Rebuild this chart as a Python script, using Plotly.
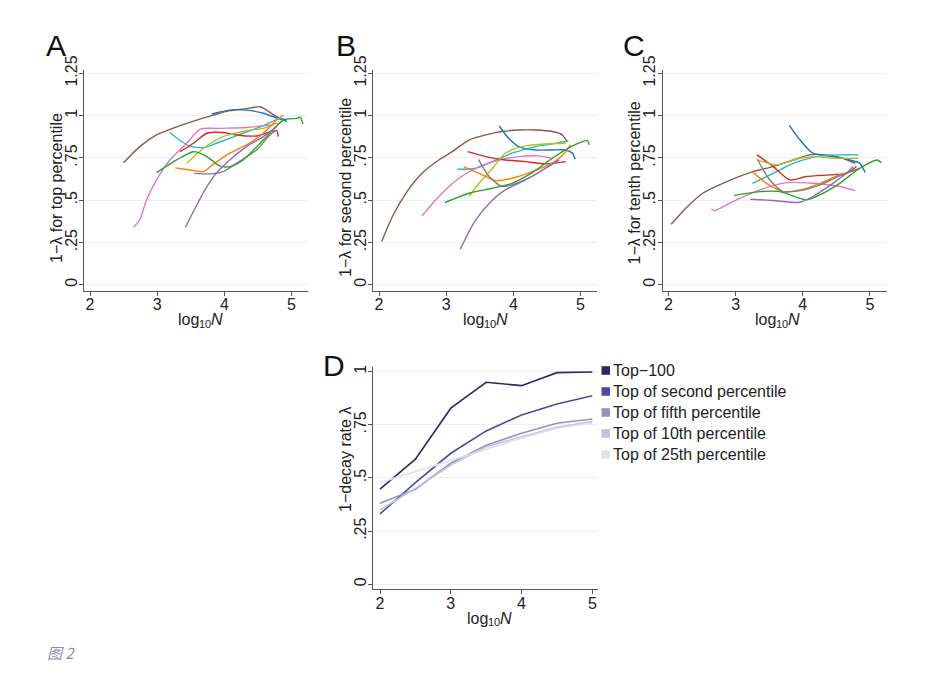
import plotly.graph_objects as go

W, H = 931, 688

# ---------------- data: panel A (1-lambda for top percentile) ----------------
a_brown_x = [2.50, 2.75, 2.99, 3.30, 3.59, 3.85, 4.08, 4.30, 4.53, 4.60, 4.78, 4.93]
a_brown_y = [0.722, 0.820, 0.886, 0.935, 0.974, 1.005, 1.030, 1.040, 1.053, 1.040, 0.994, 0.974]
a_blue_x = [3.81, 4.08, 4.33, 4.58, 4.80, 4.93]
a_blue_y = [1.010, 1.033, 1.033, 1.014, 0.984, 0.965]
a_cyan_x = [3.19, 3.35, 3.49, 3.69, 3.88, 4.08, 4.28, 4.58, 4.83, 4.93]
a_cyan_y = [0.900, 0.850, 0.820, 0.810, 0.837, 0.866, 0.896, 0.940, 0.984, 0.974]
a_pink_x = [2.65, 2.74, 2.84, 2.99, 3.19, 3.44, 3.64, 3.88, 4.33, 4.68]
a_pink_y = [0.340, 0.384, 0.500, 0.620, 0.738, 0.837, 0.920, 0.925, 0.930, 0.945]
a_red_x = [3.34, 3.54, 3.74, 3.98, 4.18, 4.48, 4.78, 4.80]
a_red_y = [0.787, 0.837, 0.896, 0.900, 0.886, 0.880, 0.911, 0.876]
a_olive_x = [3.44, 3.69, 3.98, 4.33, 4.58, 4.78, 4.80]
a_olive_y = [0.718, 0.807, 0.876, 0.911, 0.925, 0.955, 0.945]
a_orange_x = [3.27, 3.49, 3.69, 3.79, 4.08, 4.33, 4.58, 4.78, 4.88]
a_orange_y = [0.691, 0.679, 0.669, 0.699, 0.778, 0.827, 0.896, 0.974, 1.004]
a_gray_x = [3.55, 3.79, 3.98, 4.18, 4.48, 4.68, 4.78]
a_gray_y = [0.659, 0.656, 0.669, 0.718, 0.797, 0.886, 0.915]
a_green_x = [2.99, 3.29, 3.54, 3.74, 3.93, 4.08, 4.28, 4.58, 4.88, 5.07, 5.13, 5.17]
a_green_y = [0.663, 0.738, 0.787, 0.758, 0.703, 0.699, 0.738, 0.856, 0.974, 0.984, 0.990, 0.950]
a_purple_x = [3.42, 3.59, 3.74, 3.88, 4.08, 4.33, 4.58, 4.78]
a_purple_y = [0.340, 0.472, 0.580, 0.659, 0.738, 0.817, 0.876, 0.935]

# ---------------- data: panel B (second percentile) ----------------
b_brown_x = [2.04, 2.20, 2.40, 2.64, 2.89, 3.09, 3.34, 3.59, 3.83, 4.08, 4.33, 4.58, 4.73, 4.80]
b_brown_y = [0.256, 0.404, 0.541, 0.659, 0.738, 0.787, 0.856, 0.886, 0.906, 0.915, 0.915, 0.906, 0.886, 0.846]
b_blue_x = [3.79, 3.93, 4.08, 4.33, 4.58, 4.78, 4.88, 4.92]
b_blue_y = [0.939, 0.866, 0.817, 0.797, 0.797, 0.797, 0.778, 0.742]
b_cyan_x = [3.17, 3.44, 3.69, 3.98, 4.33, 4.63, 4.82]
b_cyan_y = [0.683, 0.689, 0.728, 0.778, 0.817, 0.837, 0.852]
b_pink_x = [2.64, 2.89, 3.19, 3.49, 3.79, 4.08, 4.38, 4.58]
b_pink_y = [0.407, 0.522, 0.630, 0.699, 0.738, 0.758, 0.762, 0.748]
b_red_x = [3.32, 3.59, 3.88, 4.18, 4.48, 4.78]
b_red_y = [0.787, 0.758, 0.738, 0.728, 0.715, 0.728]
b_olive_x = [3.34, 3.49, 3.69, 3.88, 4.18, 4.48, 4.78]
b_olive_y = [0.522, 0.600, 0.689, 0.778, 0.821, 0.833, 0.837]
b_orange_x = [3.26, 3.49, 3.74, 3.98, 4.28, 4.58, 4.78, 4.85]
b_orange_y = [0.699, 0.659, 0.616, 0.630, 0.669, 0.719, 0.787, 0.827]
b_gray_x = [3.48, 3.64, 3.83, 3.98, 4.23, 4.48, 4.68]
b_gray_y = [0.742, 0.640, 0.581, 0.591, 0.630, 0.689, 0.738]
b_green_x = [2.98, 3.34, 3.69, 3.98, 4.28, 4.58, 4.88, 5.10, 5.13]
b_green_y = [0.486, 0.541, 0.571, 0.600, 0.663, 0.748, 0.821, 0.852, 0.827]
b_purple_x = [3.21, 3.44, 3.69, 3.88, 4.18, 4.48, 4.68]
b_purple_y = [0.211, 0.384, 0.502, 0.561, 0.620, 0.689, 0.738]

# ---------------- data: panel C (tenth percentile) ----------------
c_brown_x = [2.04, 2.26, 2.51, 2.81, 3.26, 3.56, 3.86, 4.10, 4.35, 4.60, 4.78]
c_brown_y = [0.358, 0.453, 0.541, 0.600, 0.669, 0.699, 0.738, 0.768, 0.768, 0.748, 0.718]
c_blue_x = [3.80, 3.96, 4.15, 4.45, 4.70, 4.85, 4.91, 4.93]
c_blue_y = [0.943, 0.856, 0.778, 0.758, 0.738, 0.718, 0.679, 0.663]
c_cyan_x = [3.25, 3.56, 3.86, 4.20, 4.55, 4.83]
c_cyan_y = [0.600, 0.659, 0.718, 0.758, 0.768, 0.768]
c_pink_x = [2.64, 2.69, 2.96, 3.36, 3.76, 4.15, 4.55, 4.78]
c_pink_y = [0.447, 0.439, 0.492, 0.561, 0.604, 0.600, 0.581, 0.557]
c_red_x = [3.32, 3.56, 3.81, 4.05, 4.40, 4.65, 4.80]
c_red_y = [0.768, 0.699, 0.620, 0.640, 0.650, 0.659, 0.699]
c_olive_x = [3.31, 3.61, 3.96, 4.20, 4.45, 4.83]
c_olive_y = [0.742, 0.709, 0.748, 0.758, 0.748, 0.748]
c_orange_x = [3.25, 3.46, 3.71, 3.96, 4.26, 4.55, 4.80]
c_orange_y = [0.669, 0.600, 0.551, 0.561, 0.600, 0.650, 0.679]
c_gray_x = [3.33, 3.51, 3.71, 3.96, 4.26, 4.55, 4.85]
c_gray_y = [0.738, 0.620, 0.551, 0.557, 0.591, 0.644, 0.689]
c_green_x = [2.98, 3.36, 3.66, 4.05, 4.25, 4.55, 4.85, 5.11, 5.17]
c_green_y = [0.528, 0.551, 0.551, 0.502, 0.531, 0.600, 0.689, 0.738, 0.722]
c_purple_x = [3.22, 3.56, 3.96, 4.15, 4.45, 4.65, 4.75]
c_purple_y = [0.506, 0.498, 0.488, 0.522, 0.600, 0.659, 0.699]

# ---------------- data: panel D ----------------
d_x = [2, 2.5, 3, 3.5, 4, 4.5, 5]
d_top100 = [0.447, 0.588, 0.828, 0.950, 0.934, 0.995, 0.998]
d_second = [0.331, 0.478, 0.616, 0.721, 0.796, 0.848, 0.886]
d_fifth = [0.381, 0.447, 0.569, 0.654, 0.710, 0.757, 0.777]
d_tenth = [0.350, 0.451, 0.561, 0.647, 0.694, 0.738, 0.765]
d_25th = [0.478, 0.530, 0.585, 0.635, 0.687, 0.734, 0.757]
d_names = ["Top\u2212100", "Top of second percentile", "Top of fifth percentile",
           "Top of 10th percentile", "Top of 25th percentile"]

y_ticks = [0, 0.25, 0.5, 0.75, 1, 1.25]
y_ticklabels = ["0", ".25", ".5", ".75", "1", "1.25"]
x_ticks = [2, 3, 4, 5]
x_ticklabels = ["2", "3", "4", "5"]
x_title_parts = ["log", "10", "N"]
y_titles = ["1\u2212\u03bb for top percentile", "1\u2212\u03bb for second percentile",
            "1\u2212\u03bb for tenth percentile", "1\u2212decay rate \u03bb"]

# ---------------- styling ----------------
FONT = "Liberation Sans, Arial, sans-serif"
PAL = {"brown": "#8c564b", "blue": "#1f77b4", "cyan": "#17becf", "pink": "#e377c2",
       "red": "#d62728", "olive": "#bcbd22", "orange": "#ff7f0e", "gray": "#7f7f7f",
       "green": "#2ca02c", "purple": "#9467bd"}
D_COLORS = ["#2b2a64", "#4b4b9e", "#9393c0", "#c2c2dc", "#e2e2e6"]

fig = go.Figure()

panels = [
    dict(series=[("brown", a_brown_x, a_brown_y), ("blue", a_blue_x, a_blue_y),
                 ("cyan", a_cyan_x, a_cyan_y), ("pink", a_pink_x, a_pink_y),
                 ("red", a_red_x, a_red_y), ("olive", a_olive_x, a_olive_y),
                 ("orange", a_orange_x, a_orange_y), ("gray", a_gray_x, a_gray_y),
                 ("green", a_green_x, a_green_y), ("purple", a_purple_x, a_purple_y)],
         px=(84.3, 308.3), ax="x", ay="y"),
    dict(series=[("brown", b_brown_x, b_brown_y), ("blue", b_blue_x, b_blue_y),
                 ("cyan", b_cyan_x, b_cyan_y), ("pink", b_pink_x, b_pink_y),
                 ("red", b_red_x, b_red_y), ("olive", b_olive_x, b_olive_y),
                 ("orange", b_orange_x, b_orange_y), ("gray", b_gray_x, b_gray_y),
                 ("green", b_green_x, b_green_y), ("purple", b_purple_x, b_purple_y)],
         px=(373.3, 597.3), ax="x2", ay="y2"),
    dict(series=[("brown", c_brown_x, c_brown_y), ("blue", c_blue_x, c_blue_y),
                 ("cyan", c_cyan_x, c_cyan_y), ("pink", c_pink_x, c_pink_y),
                 ("red", c_red_x, c_red_y), ("olive", c_olive_x, c_olive_y),
                 ("orange", c_orange_x, c_orange_y), ("gray", c_gray_x, c_gray_y),
                 ("green", c_green_x, c_green_y), ("purple", c_purple_x, c_purple_y)],
         px=(662.7, 886.7), ax="x3", ay="y3"),
]

def xd(a, b):
    return [a / W, b / W]

def yd(top, bottom):
    return [1 - bottom / H, 1 - top / H]

axis_common = dict(showline=True, linecolor="#555555", linewidth=1, ticks="outside",
                   ticklen=4, tickcolor="#555555", tickwidth=1, zeroline=False,
                   automargin=False,
                   tickfont=dict(family=FONT, size=16, color="#222"), fixedrange=True)
x_common = dict(axis_common, tickvals=x_ticks, ticktext=x_ticklabels, showgrid=False,
                ticklabelstandoff=-5)
y_common = dict(axis_common, tickangle=-90, showgrid=True, gridcolor="#efefef", gridwidth=1,
                ticklabelstandoff=-4)

layout_axes = {}
for p in panels:
    for name, xs, ys in p["series"]:
        fig.add_trace(go.Scatter(x=xs, y=ys, mode="lines", xaxis=p["ax"], yaxis=p["ay"],
                                 line=dict(color=PAL[name], width=1.4, shape="spline", smoothing=0.7),
                                 showlegend=False, hoverinfo="skip"))
    xname = "xaxis" + p["ax"][1:]
    yname = "yaxis" + p["ay"][1:]
    layout_axes[xname] = dict(x_common, domain=xd(*p["px"]), range=[1.915, 5.25], anchor=p["ay"])
    layout_axes[yname] = dict(y_common, domain=yd(70, 290.7), range=[-0.035, 1.27],
                              tickvals=y_ticks, ticktext=y_ticklabels, anchor=p["ax"])

# panel D
for vals, col, nm in zip([d_top100, d_second, d_fifth, d_tenth, d_25th], D_COLORS, d_names):
    fig.add_trace(go.Scatter(x=d_x, y=vals, mode="lines", xaxis="x4", yaxis="y4",
                             line=dict(color=col, width=1.6), name=nm,
                             showlegend=False, hoverinfo="skip"))
layout_axes["xaxis4"] = dict(x_common, domain=xd(373.3, 598), range=[1.905, 5.08], anchor="y4")
layout_axes["yaxis4"] = dict(y_common, domain=yd(366.7, 589.3), range=[-0.0235, 1.023],
                             tickvals=y_ticks[:5], ticktext=y_ticklabels[:5], anchor="x4")

shapes = []
annotations = []

def txt(text, x, y, size, angle=0, xanchor="center", family=FONT, color="#222"):
    annotations.append(dict(text=text, xref="paper", yref="paper", x=x / W, y=1 - y / H,
                            xanchor=xanchor, yanchor="middle", showarrow=False, textangle=angle,
                            font=dict(family=family, size=size, color=color)))

# axis titles: log_10 N  (log, subscript 10, italic N)
for (tx, ty) in [(198, 320), (483, 320), (775, 320), (487, 618)]:
    left = tx - 22
    txt(x_title_parts[0], left, ty, 16, xanchor="left")
    txt(x_title_parts[1], left + 21, ty + 4, 11, xanchor="left")
    txt("<i>" + x_title_parts[2] + "</i>", left + 33, ty, 16, xanchor="left")
for t, (tx, ty) in zip(y_titles, [(56, 188), (345, 188), (634.5, 183), (345, 460)]):
    txt(t, tx, ty, 16, angle=-90)

# legend for D (square swatches + text)
leg_y = [370.5, 391.5, 412.5, 433.5, 454.5]
for ly, col, nm in zip(leg_y, D_COLORS, d_names):
    shapes.append(dict(type="rect", xref="paper", yref="paper",
                       x0=601.5 / W, x1=610 / W, y0=1 - (ly + 4.3) / H, y1=1 - (ly - 4.3) / H,
                       fillcolor=col, line=dict(width=0)))
    txt(nm, 610.5, ly, 16, xanchor="left")

# panel letters
for letter, lx, ly in [("A", 44, 45), ("B", 334, 45), ("C", 621, 45), ("D", 321, 366)]:
    txt(letter, lx, ly, 30, xanchor="left", color="#111")

# caption
txt("<i>图 2</i>", 45, 652, 15, xanchor="left", family="Noto Sans CJK SC, sans-serif",
    color="#8a8ab0")

fig.update_layout(width=W, height=H, margin=dict(l=0, r=0, t=0, b=0),
                  paper_bgcolor="white", plot_bgcolor="white", showlegend=False,
                  shapes=shapes, annotations=annotations, **layout_axes)

fig.write_html("out.html", config={"displayModeBar": False},
               post_script="document.body.style.margin='0';document.body.style.padding='0';")
